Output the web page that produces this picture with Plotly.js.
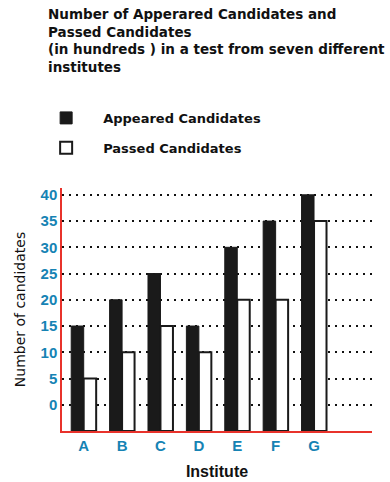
<!DOCTYPE html>
<html>
<head>
<meta charset="utf-8">
<script src="https://cdn.plot.ly/plotly-3.0.1.min.js"></script>
<style>html,body{margin:0;padding:0;background:#fff;}#chart{width:390px;height:482px;}</style>
</head>
<body>
<div id="chart"></div>
<script>
const institutes = ["A", "B", "C", "D", "E", "F", "G"];
const appeared = [15, 20, 25, 15, 30, 35, 40];
const passed = [5, 10, 15, 10, 20, 20, 35];
const yTicks = [0, 5, 10, 15, 20, 25, 30, 35, 40];

// the original draws the bars from a baseline one step below "0"
const baseLevel = -5;

const traces = [
  {
    type: "bar",
    name: "Appeared Candidates",
    legendgroup: "appeared",
    x: institutes,
    y: appeared.map(v => v - baseLevel),
    base: baseLevel,
    marker: {color: "#1a1a1a", line: {color: "#1a1a1a", width: 1}}
  },
  {
    type: "bar",
    name: "Passed Candidates",
    legendgroup: "passed",
    x: institutes,
    y: passed.map(v => v - baseLevel),
    base: baseLevel,
    marker: {color: "#ffffff", line: {color: "#1a1a1a", width: 2}}
  }
];

const wide = "DejaVu Sans, Verdana, sans-serif";
const narrow = "Liberation Sans, Arial, sans-serif";
const tickFont = {family: narrow, size: 15, color: "#1683b4", weight: "bold"};

const layout = {
  width: 390,
  height: 482,
  paper_bgcolor: "#ffffff",
  plot_bgcolor: "#ffffff",
  margin: {l: 62, r: 18, t: 188, b: 51},
  barmode: "group",
  bargap: 0.35,
  bargroupgap: 0,
  title: {
    text: "Number of Apperared Candidates and<br>Passed Candidates<br>(in hundreds ) in a test from seven different<br>institutes",
    font: {family: wide, size: 13.5, color: "#111111", weight: "bold"},
    xref: "container", x: 48 / 390, xanchor: "left",
    yref: "container", y: 1 - 19 / 482, yanchor: "top"
  },
  showlegend: true,
  legend: {
    x: -0.106, xanchor: "left", xref: "paper",
    y: 1.35, yanchor: "top", yref: "paper",
    font: {family: wide, size: 13, color: "#111111", weight: "bold"},
    itemwidth: 64,
    tracegroupgap: 10,
    bgcolor: "rgba(0,0,0,0)"
  },
  xaxis: {
    type: "category",
    range: [-0.565, 7.51],
    showline: true, linecolor: "#e8322b", linewidth: 1.5,
    showgrid: false, zeroline: false, ticks: "",
    tickfont: tickFont,
    title: {text: "Institute", font: {family: narrow, size: 16, color: "#111111", weight: "bold"}, standoff: 13}
  },
  yaxis: {
    range: [-5, 41.3],
    tickvals: yTicks,
    ticktext: yTicks.map(String),
    showline: true, linecolor: "#e8322b", linewidth: 1.5,
    showgrid: true, gridcolor: "#111111", gridwidth: 2, griddash: "2px,5px",
    zeroline: false, ticks: "",
    tickfont: tickFont,
    title: {text: "Number of candidates", font: {family: wide, size: 14, color: "#111111"}, standoff: 12}
  }
};

Plotly.newPlot("chart", traces, layout, {displayModeBar: false, responsive: false});
</script>
</body>
</html>
